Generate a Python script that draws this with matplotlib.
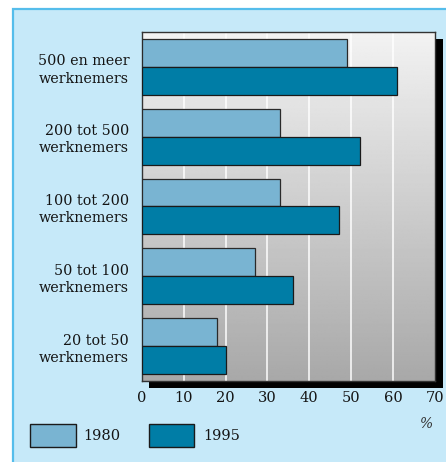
import numpy as np
import matplotlib
matplotlib.use("Agg")
import matplotlib.pyplot as plt
from matplotlib.patches import Rectangle

categories = ["500 en meer\nwerknemers", "200 tot 500\nwerknemers", "100 tot 200\nwerknemers",
              "50 tot 100\nwerknemers", "20 tot 50\nwerknemers"]
values_1980 = [49, 33, 33, 27, 18]
values_1995 = [61, 52, 47, 36, 20]
years = ["1980", "1995"]
x_ticks = [0, 10, 20, 30, 40, 50, 60, 70]

c_light = "#79b4d2"
c_dark = "#007da6"
panel_bg = "#c6e9f9"
panel_edge = "#55bdeb"
txt = "#141414"
W, H = 446, 462

plt.rcParams['font.family'] = ['DejaVu Serif']

fig = plt.figure(figsize=(W / 100, H / 100), dpi=100)
fig.patch.set_facecolor("white")

def px(x0, y0, x1, y1):
    # pixel box (top-left origin) -> figure fraction rect
    return (x0 / W, 1 - y1 / H, (x1 - x0) / W, (y1 - y0) / H)

# light blue panel
l, b, w, h = px(13, 9, 448, 464)
fig.patches.append(Rectangle((l, b), w, h, transform=fig.transFigure,
                             facecolor=panel_bg, edgecolor=panel_edge, lw=1.6, zorder=0))
# drop shadow behind plot
l, b, w, h = px(149, 39, 443, 388)
fig.patches.append(Rectangle((l, b), w, h, transform=fig.transFigure,
                             facecolor="black", edgecolor="none", zorder=1))

ax = fig.add_axes(px(141.7, 32, 435, 381))
ax.set_zorder(2)

n = len(categories)
ax.set_xlim(0, 70)
ax.set_ylim(n - 0.5, -0.5)

# gray vertical gradient background
grad = np.linspace(0.95, 0.66, 256).reshape(-1, 1)
ax.imshow(grad, cmap="gray", vmin=0, vmax=1, aspect="auto",
          extent=(0, 70, n - 0.5, -0.5), zorder=0, interpolation="bilinear")

for xv in x_ticks[1:-1]:
    ax.axvline(xv, color="white", lw=1.2, alpha=0.9, zorder=1)

y = np.arange(n)
bh = 0.4
ax.barh(y - bh / 2, values_1980, height=bh, color=c_light, edgecolor="#2a2a2a", lw=0.9, zorder=3)
ax.barh(y + bh / 2, values_1995, height=bh, color=c_dark, edgecolor="#1a1a1a", lw=0.9, zorder=3)

ax.set_yticks(y)
ax.set_yticklabels(categories, fontsize=10.3, color=txt, linespacing=1.3)
ax.set_xticks(x_ticks)
ax.set_xticklabels([str(v) for v in x_ticks], fontsize=10.5, color=txt)
ax.tick_params(length=0, pad=9)
ax.tick_params(axis="x", pad=7)
for s in ax.spines.values():
    s.set_color("#333333")
    s.set_linewidth(1.0)

fig.text(427 / W, 1 - 424 / H, "%", fontsize=10, style="italic", color="#333333",
         ha="center", va="center")

# legend boxes
for (x0, x1, tx), lab, col in zip([(30, 75.7, 83), (149, 194, 203)], years, [c_light, c_dark]):
    l, b, w, h = px(x0, 424, x1, 446.7)
    fig.patches.append(Rectangle((l, b), w, h, transform=fig.transFigure,
                                 facecolor=col, edgecolor="#1a1a1a", lw=1.0, zorder=3))
    fig.text(tx / W, 1 - 435.5 / H, lab, fontsize=10.5, color=txt, ha="left", va="center")

fig.savefig("out.png", dpi=100, facecolor=fig.get_facecolor())
